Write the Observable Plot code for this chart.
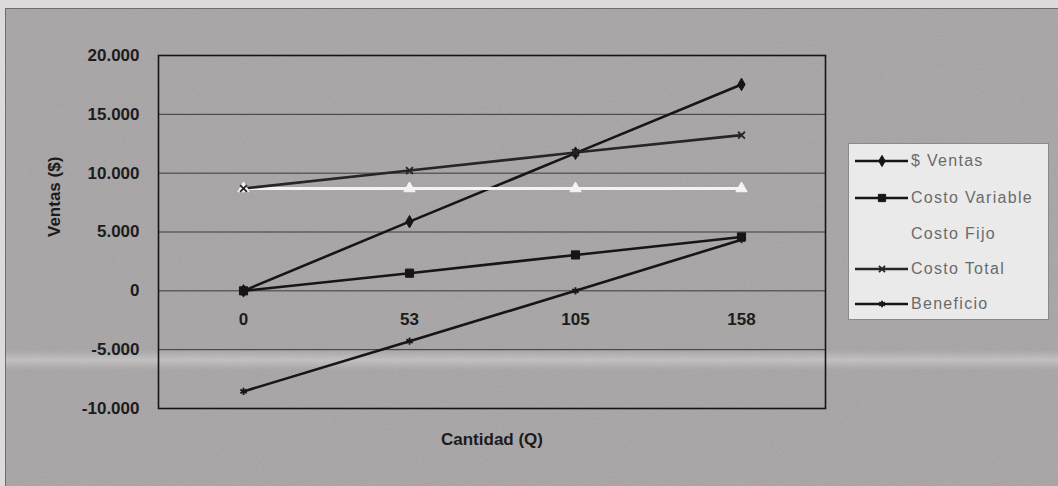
<!DOCTYPE html>
<html>
<head>
<meta charset="utf-8">
<script src="https://cdn.jsdelivr.net/npm/d3@7"></script>
<script src="https://cdn.jsdelivr.net/npm/@observablehq/plot@0.6"></script>
<style>
  html, body { margin: 0; padding: 0; background: #dcdadb; }
  #wrap { position: relative; width: 1058px; height: 486px; overflow: hidden; font-family: "Liberation Sans", Arial, sans-serif; }
  #bg { position: absolute; left: 0; top: 0; }
  #chart { position: absolute; left: 0; top: 0; }
  #chart svg { background: transparent !important; }
  #legend { position: absolute; left: 848px; top: 143px; width: 201px; height: 177px; background: #ebeaeb; border: 1px solid #8a8a8a; box-sizing: border-box; }
  .item { position: absolute; left: 6px; height: 20px; display: flex; align-items: center; }
  .item span { font-size: 16px; letter-spacing: 1.3px; color: #6a6a6a; margin-left: 2px; white-space: nowrap; }
</style>
</head>
<body>
<div id="wrap">
  <svg id="bg" width="1058" height="486">
    <defs>
      <filter id="grain" x="0" y="0" width="100%" height="100%">
        <feTurbulence type="fractalNoise" baseFrequency="0.9" numOctaves="2" seed="4" result="n"/>
        <feColorMatrix type="matrix" values="0 0 0 0 0.5  0 0 0 0 0.5  0 0 0 0 0.5  0.6 0.6 0 0 -0.35" />
      </filter>
      <linearGradient id="band" x1="0" y1="0" x2="0" y2="1">
        <stop offset="0" stop-color="#c9c7c8" stop-opacity="0"/>
        <stop offset="0.5" stop-color="#cbc9ca" stop-opacity="0.8"/>
        <stop offset="1" stop-color="#c9c7c8" stop-opacity="0"/>
      </linearGradient>
    </defs>
    <rect x="5" y="8" width="1053" height="478" fill="#a6a2a4"/>
    <rect x="5" y="350" width="1053" height="20" fill="url(#band)"/>
    <rect x="5" y="8" width="1053" height="478" filter="url(#grain)" opacity="0.6"/>
    <line x1="5" y1="8.5" x2="1058" y2="8.5" stroke="#6f6d6e" stroke-width="1"/>
    <line x1="5.5" y1="8" x2="5.5" y2="486" stroke="#6f6d6e" stroke-width="1"/>
  </svg>
  <div id="chart"></div>
  <div id="legend"></div>
</div>
<script>
// ---- data ----
const quantities = ["0", "53", "105", "158"];
const seriesNames = ["$ Ventas", "Costo Variable", "Costo Fijo", "Costo Total", "Beneficio"];
const ventas        = [0, 5880, 11700, 17540];
const costoVariable = [0, 1500, 3050, 4580];
const costoFijo     = [8700, 8700, 8700, 8700];
const costoTotal    = [8700, 10220, 11750, 13230];
const beneficio     = [-8550, -4280, 0, 4350];
const yTicks = [-10000, -5000, 0, 5000, 10000, 15000, 20000];

const seriesValues = [ventas, costoVariable, costoFijo, costoTotal, beneficio];
const styles = {
  "$ Ventas":       {stroke: "#161616", symbol: "diamond", fill: "#161616", r: 3.8},
  "Costo Variable": {stroke: "#161616", symbol: "square",  fill: "#161616", r: 4.6},
  "Costo Fijo":     {stroke: "#f4f4f4", symbol: "triangle", fill: "#f4f4f4", r: 4.2},
  "Costo Total":    {stroke: "#262626", symbol: "times",   fill: "none", r: 3.2},
  "Beneficio":      {stroke: "#161616", symbol: "asterisk", fill: "none", r: 3.4}
};

const rows = seriesNames.flatMap((s, i) => quantities.map((q, j) => ({series: s, q, value: seriesValues[i][j]})));

const loc = d3.formatLocale({decimal: ",", thousands: ".", grouping: [3], currency: ["$", ""], minus: "-"});
const fmt = loc.format(",");

const marks = [
  Plot.ruleY(yTicks, {stroke: "#3a3a3a", strokeWidth: 1}),
  Plot.frame({stroke: "#151515", strokeWidth: 1.6}),
  Plot.axisY({ticks: yTicks, tickFormat: fmt, tickSize: 8, tickPadding: 11, fontSize: 17, fontWeight: "bold", fill: "#1c1c1c", stroke: null, label: null, style: "letter-spacing:1.3px"}),
];
for (const s of seriesNames) {
  const st = styles[s];
  const d = rows.filter(r => r.series === s);
  marks.push(Plot.line(d, {x: "q", y: "value", stroke: st.stroke, strokeWidth: s === "Costo Fijo" ? 3 : 2.6}));
}
for (const s of seriesNames) {
  const st = styles[s];
  const d = rows.filter(r => r.series === s);
  marks.push(Plot.dot(d, {x: "q", y: "value", symbol: () => st.symbol, r: st.r, fill: st.fill, stroke: st.stroke, strokeWidth: st.fill === "none" ? 1.8 : 1}));
}
marks.push(
  Plot.text(quantities, {x: d => d, y: () => 0, dy: 29, text: d => d, fontSize: 17, fontWeight: "bold", fill: "#1c1c1c", style: "letter-spacing:1.3px"}),
  Plot.text(["Ventas ($)"], {frameAnchor: "left", dx: -104, dy: 5, rotate: -90, text: d => d, fontSize: 17, fontWeight: "bold", fill: "#1c1c1c", style: "letter-spacing:1.3px"}),
  Plot.text(["Cantidad (Q)"], {frameAnchor: "bottom", dy: 36, text: d => d, fontSize: 17, fontWeight: "bold", fill: "#1c1c1c", style: "letter-spacing:1.3px"})
);

const chart = Plot.plot({
  width: 1058,
  height: 486,
  marginLeft: 158,
  marginRight: 233,
  marginTop: 55,
  marginBottom: 78,
  style: {background: "transparent", fontFamily: "'Liberation Sans', Arial, sans-serif", overflow: "visible"},
  x: {type: "point", domain: quantities, padding: 0.5, axis: null},
  y: {domain: [-10000, 20000], axis: null},
  symbol: {type: "identity"},
  marks
});
document.getElementById("chart").appendChild(chart);

// ---- legend ----
const legend = document.getElementById("legend");
const ys = [7, 44, 80, 115, 150];
seriesNames.forEach((s, i) => {
  const st = styles[s];
  const item = document.createElement("div");
  item.className = "item";
  item.style.top = ys[i] + "px";
  const sym = d3.symbol(d3[{diamond: "symbolDiamond", square: "symbolSquare", triangle: "symbolTriangle", times: "symbolTimes", asterisk: "symbolAsterisk"}[st.symbol]], Math.PI * st.r * st.r * 0.8)();
  const hidden = s === "Costo Fijo";
  item.innerHTML = `<svg width="54" height="20"${hidden ? ' style="visibility:hidden"' : ''}><line x1="0" x2="53" y1="10" y2="10" stroke="${st.stroke}" stroke-width="2.6"/>` +
    `<path transform="translate(27,10)" d="${sym}" fill="${st.fill}" stroke="${st.stroke}" stroke-width="${st.fill === "none" ? 1.8 : 1}"/></svg><span>${s}</span>`;
  legend.appendChild(item);
});
</script>
</body>
</html>
